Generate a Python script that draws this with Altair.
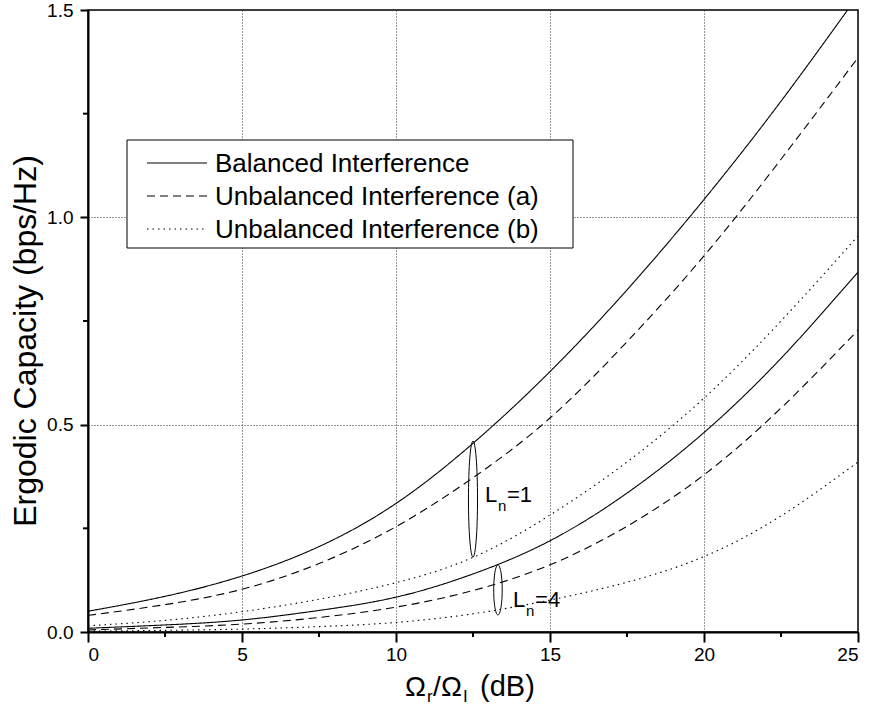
import altair as alt
import pandas as pd

# Relay link SNR ratio (dB) and ergodic capacity (bps/Hz)
snr_db = [0, 2.5, 5, 7.5, 10, 12.5, 15, 17.5, 20, 22.5, 25]

# L_n = 1
bal_l1 = [0.050, 0.086, 0.135, 0.206, 0.310, 0.455, 0.628, 0.825, 1.043, 1.280, 1.535]
unb_a_l1 = [0.040, 0.066, 0.103, 0.165, 0.254, 0.372, 0.516, 0.700, 0.907, 1.140, 1.385]
unb_b_l1 = [0.015, 0.028, 0.049, 0.079, 0.119, 0.180, 0.282, 0.410, 0.564, 0.750, 0.955]

# L_n = 4
bal_l4 = [0.009, 0.017, 0.029, 0.052, 0.084, 0.140, 0.220, 0.335, 0.481, 0.660, 0.868]
unb_a_l4 = [0.005, 0.011, 0.019, 0.035, 0.060, 0.100, 0.162, 0.255, 0.379, 0.540, 0.728]
unb_b_l4 = [0.002, 0.004, 0.007, 0.013, 0.023, 0.044, 0.077, 0.120, 0.182, 0.280, 0.410]

schemes = ["Balanced Interference", "Unbalanced Interference (a)", "Unbalanced Interference (b)"]
dashes = [[1, 0], [8, 5], [1.5, 4]]

x_major = [0, 5, 10, 15, 20, 25]
x_minor = [2.5, 7.5, 12.5, 17.5, 22.5]
y_major = [0.0, 0.5, 1.0, 1.5]
y_minor = [0.25, 0.75, 1.25]

# Ellipse groupings: centre (dB, capacity) and label anchor
group_ln = ["1", "4"]
ellipse_x = [12.5, 13.31]
ellipse_y = [0.3205, 0.1015]
label_x = [12.89, 13.80]
label_y = [0.3135, 0.061]

FONT = "Liberation Sans, Arial, Helvetica, sans-serif"
W, H = 770, 622

rows = []
for ln, group in (("1", [bal_l1, unb_a_l1, unb_b_l1]), ("4", [bal_l4, unb_a_l4, unb_b_l4])):
    for name, vals in zip(schemes, group):
        for xv, yv in zip(snr_db, vals):
            rows.append({"snr": xv, "cap": yv, "scheme": name, "Ln": ln})
df = pd.DataFrame(rows)

xs = alt.Scale(domain=[0, 25], nice=False, zero=False)
ys = alt.Scale(domain=[0, 1.5], nice=False, zero=False)

X = alt.X("snr:Q", scale=xs)
Y = alt.Y("cap:Q", scale=ys)

axis_style = dict(
    title=None, ticks=True, tickColor="black", tickWidth=2,
    labelFont=FONT, labelFontSize=19, labelColor="black",
    domainColor="black", domainWidth=2,
    grid=True, gridColor="#333333", gridDash=[1, 2], gridWidth=1,
)

curves = alt.Chart(df).mark_line(
    color="black", strokeWidth=1.1, clip=True, interpolate="natural"
).encode(
    x=alt.X("snr:Q", scale=xs,
            axis=alt.Axis(values=x_major, labelPadding=3, tickSize=10, **axis_style)),
    y=alt.Y("cap:Q", scale=ys,
            axis=alt.Axis(values=y_major, format=".1f", labelPadding=7, tickSize=8, **axis_style)),
    strokeDash=alt.StrokeDash("scheme:N", scale=alt.Scale(domain=schemes, range=dashes), legend=None),
    detail="Ln:N",
)

# minor tick marks
minor_x_ticks = alt.Chart(pd.DataFrame({"snr": x_minor})).mark_rule(
    color="black", strokeWidth=2
).encode(x=X, y=alt.value(H), y2=alt.value(H + 5))
minor_y_ticks = alt.Chart(pd.DataFrame({"cap": y_minor})).mark_rule(
    color="black", strokeWidth=2
).encode(y=Y, x=alt.value(-5), x2=alt.value(0))

# ellipses grouping the curves of each L_n
ell_df = pd.DataFrame({"Ln": group_ln, "snr": ellipse_x, "cap": ellipse_y})
ell1 = alt.Chart(ell_df[ell_df.Ln == "1"]).mark_point(
    shape="M0,-1 A0.078,1 0 1,1 0,1 A0.078,1 0 1,1 0,-1 Z",
    size=116 * 116, filled=False, stroke="black", strokeWidth=1, opacity=1,
).encode(x=X, y=Y)
ell4 = alt.Chart(ell_df[ell_df.Ln == "4"]).mark_point(
    shape="M0,-1 A0.17,1 0 1,1 0,1 A0.17,1 0 1,1 0,-1 Z",
    size=50 * 50, filled=False, stroke="black", strokeWidth=1, opacity=1,
).encode(x=X, y=Y)

# "L_n=k" labels
lab_df = pd.DataFrame({"Ln": group_ln, "snr": label_x, "cap": label_y})
lab_L = alt.Chart(lab_df).mark_text(
    text="L", font=FONT, fontSize=22, align="left", baseline="alphabetic", color="black"
).encode(x=X, y=Y)
lab_n = alt.Chart(lab_df).mark_text(
    text="n", font=FONT, fontSize=15, align="left", baseline="alphabetic", color="black",
    dx=13, dy=9,
).encode(x=X, y=Y)
lab_eq = alt.Chart(lab_df).mark_text(
    font=FONT, fontSize=22, align="left", baseline="alphabetic", color="black", dx=22,
).encode(x=X, y=Y, text=alt.Text("eq:N")).transform_calculate(eq="'=' + datum.Ln")

# legend box
one = pd.DataFrame({"k": [0]})
leg_box = alt.Chart(one).mark_rect(fill="white", stroke="black", strokeWidth=1).encode(
    x=alt.value(39), x2=alt.value(485), y=alt.value(130), y2=alt.value(238)
)
leg_layers = [leg_box]
for i, (name, dash) in enumerate(zip(schemes, dashes)):
    ly = 153 + 33 * i
    leg_layers.append(
        alt.Chart(one).mark_rule(color="black", strokeWidth=1.1, strokeDash=dash).encode(
            x=alt.value(59), x2=alt.value(119), y=alt.value(ly)
        )
    )
    leg_layers.append(
        alt.Chart(one).mark_text(
            text=name, font=FONT, fontSize=26, align="left", baseline="middle", color="black"
        ).encode(x=alt.value(127), y=alt.value(ly + 1))
    )

# axis titles
y_title = alt.Chart(one).mark_text(
    text="Ergodic Capacity (bps/Hz)", font=FONT, fontSize=32, angle=270,
    align="center", baseline="middle", color="black",
).encode(x=alt.value(-62), y=alt.value(331))

xt_parts = [
    ("\u03A9", 317, 28, 0),
    ("r", 339, 17, 6),
    ("/", 345, 28, 0),
    ("\u03A9", 353, 28, 0),
    ("I", 375, 17, 6),
    ("(dB)", 392, 29, 0),
]
x_title = []
for txt, px, fs, sub in xt_parts:
    x_title.append(
        alt.Chart(one).mark_text(
            text=txt, font=FONT, fontSize=fs, align="left", baseline="alphabetic", color="black"
        ).encode(x=alt.value(px), y=alt.value(H + 64 + sub))
    )

chart = alt.layer(
    curves, minor_x_ticks, minor_y_ticks, ell1, ell4, lab_L, lab_n, lab_eq,
    *leg_layers, y_title, *x_title,
).properties(
    width=W, height=H,
    autosize=alt.AutoSizeParams(type="none"),
    padding={"left": 88, "top": 10, "right": 11, "bottom": 77},
    background="white",
).configure_view(
    stroke="black", strokeWidth=1.5
)

chart.save("out.html", embed_options={"renderer": "svg", "actions": False})
